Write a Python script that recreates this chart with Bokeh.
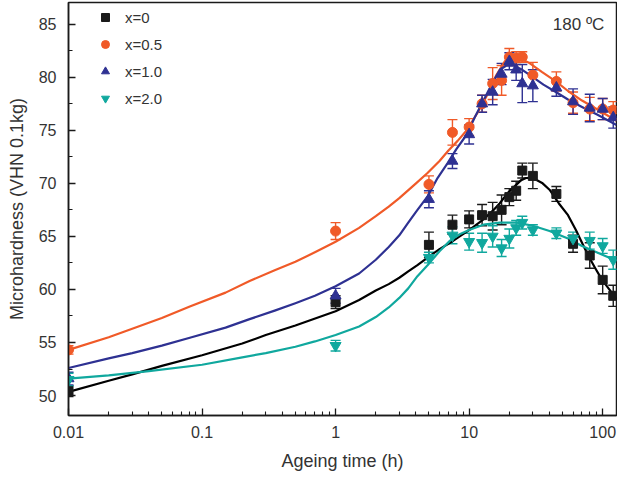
from bokeh.plotting import figure
from bokeh.models import (Range1d, ColumnDataSource, Whisker, TeeHead, Legend, LegendItem,
                          FixedTicker, SingleIntervalTicker, CustomJSTickFormatter, Label)
from bokeh.embed import file_html
from bokeh.resources import INLINE

# ---------------- data ----------------
times = [0.01, 1, 5, 7.5, 10, 12.5, 15, 17.5, 20, 22.5, 25, 30, 45, 60, 80, 100, 120]

hv_x0 = [50.4, 58.8, 64.2, 66.1, 66.6, 67.0, 66.9, 67.5, 68.7, 69.3, 71.2, 70.7, 69.0, 64.3, 63.2, 60.9, 59.4]
err_x0 = [0.5, 0.6, 1.2, 0.9, 0.8, 1.0, 1.3, 1.4, 0.8, 0.9, 0.7, 1.2, 0.7, 0.8, 1.2, 1.3, 1.0]

hv_x05 = [54.3, 65.5, 69.9, 74.8, 75.3, 77.5, 79.4, 79.7, 81.9, 81.8, 81.9, 80.2, 79.6, 77.6, 77.0, 77.0, 76.9]
err_x05 = [0.4, 0.8, 0.8, 1.2, 0.8, 0.8, 1.5, 1.4, 0.8, 0.6, 0.5, 1.2, 0.9, 1.0, 1.1, 1.0, 0.8]

hv_x10 = [51.6, 59.4, 68.5, 72.1, 74.6, 77.5, 78.6, 80.3, 81.5, 80.7, 79.4, 79.2, 79.0, 77.7, 77.1, 77.0, 76.2]
err_x10 = [0.6, 0.7, 0.8, 0.7, 0.9, 0.8, 1.2, 1.0, 0.8, 1.0, 1.8, 1.5, 0.8, 1.2, 1.3, 1.0, 1.0]

hv_x20 = [51.5, 54.7, 63.0, 65.1, 64.5, 64.4, 65.0, 63.9, 64.8, 65.8, 66.3, 65.6, 65.3, 64.8, 64.6, 64.1, 62.8]
err_x20 = [0.6, 0.5, 0.5, 0.8, 0.8, 0.9, 1.0, 0.8, 0.9, 0.7, 0.6, 0.5, 0.5, 0.6, 0.8, 0.7, 0.9]

# fitted curves
fit_t_x0 = [0.01, 0.02, 0.03, 0.05, 0.1, 0.2, 0.3, 0.5, 1, 1.5, 2, 2.5, 3, 3.5, 4.1, 5, 6, 7.2, 8.5,
            10, 12.8, 15, 16.9, 19.5, 22.7, 24.5, 26.7, 30, 35.5, 40, 47, 55, 63, 70, 78.6, 88, 99, 112, 127]
fit_x0 = [50.35, 51.4, 52.0, 52.8, 53.8, 54.9, 55.7, 56.6, 57.95, 59.0, 59.9, 60.5, 61.1, 61.7, 62.3, 63.1,
          63.8, 64.4, 65.0, 65.6, 66.6, 67.4, 68.1, 69.1, 69.9, 70.3, 70.5, 70.5, 70.0, 69.4, 68.1, 67.0,
          65.6, 64.4, 63.1, 62.0, 60.9, 60.0, 59.1]

fit_t_x05 = [0.01, 0.02, 0.03, 0.05, 0.081, 0.15, 0.227, 0.35, 0.5, 0.7, 1, 1.5, 2, 2.5, 3, 4, 4.9, 6, 7,
             8.2, 9.6, 11.5, 13.5, 16, 18.5, 20.5, 22.7, 25, 28.5, 35, 44.6, 55, 70, 90, 127]
fit_x05 = [54.3, 55.5, 56.3, 57.3, 58.4, 59.7, 60.8, 61.8, 62.6, 63.5, 64.5, 65.8, 66.9, 67.8, 68.6, 70.0,
           71.0, 72.1, 73.1, 74.0, 75.0, 76.6, 78.2, 80.2, 81.5, 82.0, 82.0, 81.7, 81.3, 80.5, 79.6, 78.7,
           77.8, 77.0, 75.9]

fit_t_x10 = [0.01, 0.02, 0.03, 0.05, 0.081, 0.15, 0.227, 0.35, 0.5, 0.7, 1, 1.5, 2, 2.5, 3, 3.5, 4, 4.9,
             5.8, 6.9, 8, 9.6, 11, 12.8, 15, 17, 19, 21.5, 25, 30, 36, 44.6, 55, 70, 90, 127]
fit_x10 = [52.6, 53.5, 54.0, 54.7, 55.45, 56.4, 57.2, 58.0, 58.7, 59.4, 60.3, 61.5, 62.8, 64.0, 65.1, 66.3,
           67.3, 68.8, 70.5, 71.9, 73.2, 74.6, 76.2, 77.8, 79.5, 80.7, 81.1, 81.1, 80.7, 80.0, 79.3, 78.6,
           77.9, 77.2, 76.5, 75.5]

fit_t_x20 = [0.01, 0.02, 0.04, 0.1, 0.2, 0.3, 0.5, 0.7, 1, 1.5, 2, 2.5, 3, 3.5, 4.1, 4.9, 6, 7.2, 8.5,
             10, 12.8, 17, 22.7, 30, 40, 55, 70, 90, 127]
fit_x20 = [51.6, 51.9, 52.3, 52.9, 53.6, 54.0, 54.6, 55.1, 55.7, 56.5, 57.4, 58.3, 59.2, 60.1, 61.25, 62.3,
           63.6, 64.6, 65.2, 65.6, 66.1, 66.3, 66.3, 66.0, 65.5, 64.8, 64.1, 63.5, 62.7]

labels = ["x=0", "x=0.5", "x=1.0", "x=2.0"]
x_major = [0.01, 0.1, 1, 10, 100]
y_major = [50, 55, 60, 65, 70, 75, 80, 85]

# ---------------- styling ----------------
FONT = "Liberation Sans"
TXT = "#333333"
colors = ["#1a1a1a", "#f05a28", "#2e3192", "#10a89e"]
line_colors = ["#000000", "#f05a28", "#2e3192", "#10a89e"]
markers = ["square", "circle", "triangle", "inverted_triangle"]
sizes = [9, 10, 11, 11]

p = figure(width=617, height=476, x_axis_type="log",
           x_range=Range1d(0.01, 126.9), y_range=Range1d(48.12, 87.04),
           output_backend="svg", toolbar_location=None,
           min_border_left=68, min_border_right=1, min_border_top=2, min_border_bottom=61)
p.background_fill_color = "white"
p.border_fill_color = "white"
p.outline_line_color = "#1a1a1a"
p.outline_line_width = 1.5
p.grid.visible = False

series = [(hv_x0, err_x0, fit_t_x0, fit_x0),
          (hv_x05, err_x05, fit_t_x05, fit_x05),
          (hv_x10, err_x10, fit_t_x10, fit_x10),
          (hv_x20, err_x20, fit_t_x20, fit_x20)]

renderers = []
for i, (hv, err, ft, fv) in enumerate(series):
    p.line(ft, fv, line_color=line_colors[i], line_width=2.2, line_join="round")
for i, (hv, err, ft, fv) in enumerate(series):
    src = ColumnDataSource(dict(t=times, v=hv,
                                up=[a + b for a, b in zip(hv, err)],
                                lo=[a - b for a, b in zip(hv, err)]))
    c = colors[i]
    w = Whisker(source=src, base="t", upper="up", lower="lo", dimension="height",
                line_color=c, line_width=1.4,
                upper_head=TeeHead(size=10, line_color=c, line_width=1.4),
                lower_head=TeeHead(size=10, line_color=c, line_width=1.4))
    p.add_layout(w)
    r = p.scatter("t", "v", source=src, marker=markers[i], size=sizes[i],
                  fill_color=c, line_color=c)
    renderers.append(r)

legend = Legend(items=[LegendItem(label=labels[i], renderers=[renderers[i]]) for i in range(4)],
                location=(27, 307), padding=0, spacing=7, glyph_width=20, glyph_height=20,
                label_height=20, label_standoff=10, border_line_color=None,
                background_fill_alpha=0, label_text_font=FONT, label_text_font_size="15px",
                label_text_color=TXT)
p.add_layout(legend)

p.add_layout(Label(x=103, y=85.0, text="180 ºC", text_align="right", text_baseline="middle",
                   text_font=FONT, text_font_size="17px", text_color=TXT))

minor_x = [m * 10.0 ** e for e in range(-2, 3) for m in range(2, 10)]
p.xaxis.ticker = FixedTicker(ticks=x_major, minor_ticks=minor_x)
p.xaxis.formatter = CustomJSTickFormatter(code="return String(Number(tick.toPrecision(6)));")
p.yaxis.ticker = SingleIntervalTicker(interval=5, num_minor_ticks=2)

for ax in (p.xaxis[0], p.yaxis[0]):
    ax.axis_line_color = "#1a1a1a"
    ax.axis_line_width = 1.5
    ax.major_tick_line_color = "#1a1a1a"
    ax.minor_tick_line_color = "#1a1a1a"
    ax.major_tick_line_width = 1.3
    ax.minor_tick_line_width = 1.1
    ax.major_tick_in = 7
    ax.major_tick_out = 0
    ax.minor_tick_in = 4
    ax.minor_tick_out = 0
    ax.major_label_text_font = FONT
    ax.major_label_text_font_size = "16px"
    ax.major_label_text_color = TXT
    ax.axis_label_text_font = FONT
    ax.axis_label_text_font_size = "18px"
    ax.axis_label_text_font_style = "normal"
    ax.axis_label_text_color = TXT

p.xaxis.axis_label = "Ageing time (h)"
p.yaxis.axis_label = "Microhardness (VHN 0.1kg)"
p.xaxis.major_label_standoff = 10
p.yaxis.major_label_standoff = 12
p.xaxis.axis_label_standoff = 10
p.yaxis.axis_label_standoff = 9

open("out.html", "w").write(file_html(p, INLINE))
